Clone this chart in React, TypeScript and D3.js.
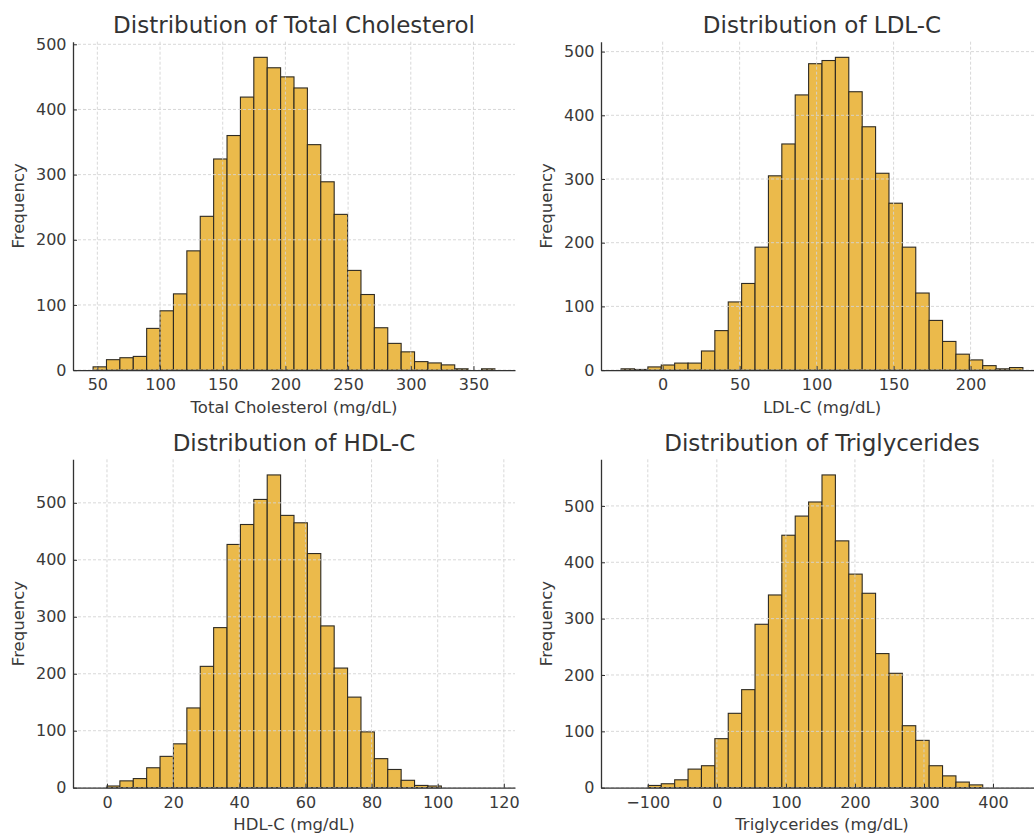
import * as d3 from 'd3';
import React, { useEffect, useRef } from 'react';

// histogram counts per bin (30 bins each)
const totalCholCounts = [5, 16, 19, 21, 64, 91, 117, 183, 236, 324, 360, 419, 480, 464, 450, 433, 346, 289, 239, 153, 116, 65, 41, 28, 13, 11, 8, 2, 0, 2];
const ldlCounts = [2, 1, 5, 8, 11, 11, 30, 62, 107, 136, 193, 305, 355, 432, 481, 486, 491, 437, 382, 309, 262, 193, 121, 78, 45, 25, 16, 7, 2, 4];
const hdlCounts = [0, 3, 12, 16, 35, 55, 77, 140, 213, 281, 427, 462, 506, 549, 478, 465, 411, 284, 210, 159, 98, 51, 32, 13, 4, 3, 0, 0, 0, 0];
const trigCounts = [0, 0, 4, 7, 14, 33, 39, 87, 132, 174, 290, 342, 448, 482, 507, 555, 438, 379, 345, 238, 203, 110, 84, 39, 21, 10, 5, 0, 0, 0];

// first and last bin edges (mg/dL)
const totalCholEdges = [46.6, 367.1];
const ldlEdges = [-27, 234];
const hdlEdges = [-4.2, 117.3];
const trigEdges = [-138.7, 443.3];

const totalCholTicks = [50, 100, 150, 200, 250, 300, 350];
const ldlTicks = [0, 50, 100, 150, 200];
const hdlTicks = [0, 20, 40, 60, 80, 100, 120];
const trigTicks = [-100, 0, 100, 200, 300, 400];
const freqTicks = [0, 100, 200, 300, 400, 500];

const panels = [
  { title: 'Distribution of Total Cholesterol', xLabel: 'Total Cholesterol (mg/dL)', counts: totalCholCounts, edges: totalCholEdges, ticks: totalCholTicks },
  { title: 'Distribution of LDL-C', xLabel: 'LDL-C (mg/dL)', counts: ldlCounts, edges: ldlEdges, ticks: ldlTicks },
  { title: 'Distribution of HDL-C', xLabel: 'HDL-C (mg/dL)', counts: hdlCounts, edges: hdlEdges, ticks: hdlTicks },
  { title: 'Distribution of Triglycerides', xLabel: 'Triglycerides (mg/dL)', counts: trigCounts, edges: trigEdges, ticks: trigTicks },
];

const W = 1034;
const H = 834;
const PW = 442;
const PH = 328.4;
const lefts = [73, 601];
const tops = [41.7, 459.3];
const FONT = '"DejaVu Sans", sans-serif';
const fmt = d3.format('');

const Histogram = ({ panel, left, top }) => {
  const ref = useRef(null);

  useEffect(() => {
    const g = d3.select(ref.current);
    g.selectAll('*').remove();

    const [lo, hi] = panel.edges;
    const n = panel.counts.length;
    const step = (hi - lo) / n;
    const pad = (hi - lo) * 0.05;
    const x = d3.scaleLinear().domain([lo - pad, hi + pad]).range([0, PW]);
    const y = d3.scaleLinear().domain([0, d3.max(panel.counts) * 1.05]).range([PH, 0]);

    const bins = panel.counts
      .map((c, i) => ({ x0: lo + i * step, x1: lo + (i + 1) * step, c }))
      .filter((d) => d.c > 0);

    g.append('g')
      .selectAll('rect')
      .data(bins)
      .join('rect')
      .attr('x', (d) => x(d.x0))
      .attr('width', (d) => x(d.x1) - x(d.x0))
      .attr('y', (d) => y(d.c))
      .attr('height', (d) => PH - y(d.c))
      .attr('fill', '#ebba4b')
      .attr('stroke', '#2e2a22')
      .attr('stroke-width', 1.1);

    // grid goes over the bars, like matplotlib's default
    const grid = g.append('g').attr('stroke', '#d4d4d4').attr('stroke-width', 0.9).attr('stroke-dasharray', '3,2');
    grid
      .selectAll('.vg')
      .data(panel.ticks)
      .join('line')
      .attr('class', 'vg')
      .attr('x1', (d) => x(d))
      .attr('x2', (d) => x(d))
      .attr('y1', 0)
      .attr('y2', PH);
    grid
      .selectAll('.hg')
      .data(freqTicks)
      .join('line')
      .attr('class', 'hg')
      .attr('x1', 0)
      .attr('x2', PW)
      .attr('y1', (d) => y(d))
      .attr('y2', (d) => y(d));

    const xAxis = d3.axisBottom(x).tickValues(panel.ticks).tickFormat(fmt).tickSize(-4).tickSizeOuter(0).tickPadding(8.6);
    const gx = g.append('g').attr('transform', `translate(0,${PH})`).call(xAxis);

    const yAxis = d3.axisLeft(y).tickValues(freqTicks).tickFormat(fmt).tickSize(-4).tickSizeOuter(0).tickPadding(6.5);
    const gy = g.append('g').call(yAxis);

    [gx, gy].forEach((a) => {
      a.select('.domain').attr('stroke', '#333').attr('stroke-width', 1.3);
      a.selectAll('.tick line').attr('stroke', '#333').attr('stroke-width', 1);
      a.selectAll('.tick text').attr('fill', '#3a3a3a').style('font-size', '16px').style('font-family', FONT);
    });

    g.append('text')
      .attr('x', PW / 2)
      .attr('y', -8.3)
      .attr('text-anchor', 'middle')
      .attr('fill', '#333')
      .style('font-size', '23px')
      .style('font-family', FONT)
      .text(panel.title);

    g.append('text')
      .attr('x', PW / 2)
      .attr('y', PH + 42.5)
      .attr('text-anchor', 'middle')
      .attr('fill', '#3a3a3a')
      .style('font-size', '16.5px')
      .style('font-family', FONT)
      .text(panel.xLabel);

    g.append('text')
      .attr('transform', `translate(-49,${PH / 2}) rotate(-90)`)
      .attr('text-anchor', 'middle')
      .attr('fill', '#3a3a3a')
      .style('font-size', '16.5px')
      .style('font-family', FONT)
      .text('Frequency');
  }, [panel]);

  return <g ref={ref} transform={`translate(${left},${top})`} />;
};

const App = () => {
  return (
    <div>
      <style>{'body{margin:0;overflow:hidden}'}</style>
      <svg width={W} height={H} style={{ display: 'block', background: '#fff' }}>
        {panels.map((p, i) => (
          <Histogram key={p.title} panel={p} left={lefts[i % 2]} top={tops[Math.floor(i / 2)]} />
        ))}
      </svg>
    </div>
  );
};

export default App;
